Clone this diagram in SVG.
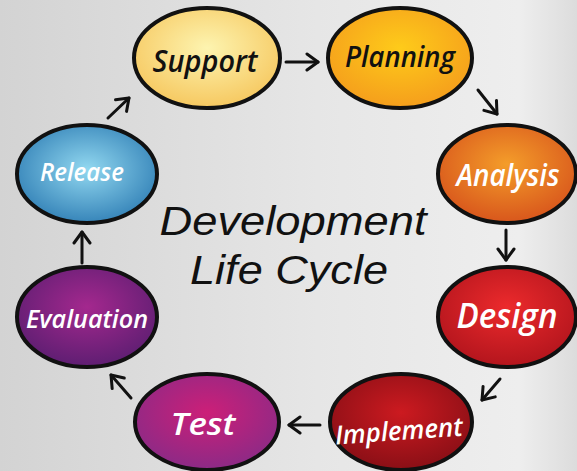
<svg xmlns="http://www.w3.org/2000/svg" width="577" height="471" viewBox="0 0 577 471">
<style>
.node ellipse{stroke:#111;stroke-width:4}
.lbl{font-family:"Open Sans","DejaVu Sans",sans-serif;font-style:italic;text-anchor:middle;font-weight:600}
.dark{fill:#111}
.light{fill:#fff}
.title{font-family:"Liberation Sans","DejaVu Sans",sans-serif;font-style:italic;fill:#111;text-anchor:middle}
.conn path{fill:none;stroke:#111;stroke-width:3;stroke-linecap:round;marker-end:url(#ah)}
</style>
<defs>
<linearGradient id="bg" x1="0" y1="0" x2="1" y2="0">
<stop offset="0" stop-color="#d3d3d3"/>
<stop offset="0.55" stop-color="#e6e6e6"/>
<stop offset="0.9" stop-color="#eeeeee"/>
<stop offset="1" stop-color="#dcdcdc"/>
</linearGradient>
<radialGradient id="gSup" cx="0.5" cy="0.4" r="0.6"><stop offset="0" stop-color="#fdf4b0"/><stop offset="1" stop-color="#f6c860"/></radialGradient>
<radialGradient id="gPla" cx="0.5" cy="0.4" r="0.6"><stop offset="0" stop-color="#fecb1a"/><stop offset="1" stop-color="#f59e1c"/></radialGradient>
<radialGradient id="gAna" cx="0.5" cy="0.4" r="0.6"><stop offset="0" stop-color="#f49d2a"/><stop offset="1" stop-color="#d8561c"/></radialGradient>
<radialGradient id="gDes" cx="0.5" cy="0.4" r="0.6"><stop offset="0" stop-color="#ec2a2c"/><stop offset="1" stop-color="#b3151d"/></radialGradient>
<radialGradient id="gImp" cx="0.5" cy="0.4" r="0.6"><stop offset="0" stop-color="#cc1a20"/><stop offset="1" stop-color="#8a0f16"/></radialGradient>
<radialGradient id="gTes" cx="0.5" cy="0.4" r="0.6"><stop offset="0" stop-color="#cc1f78"/><stop offset="1" stop-color="#8c2a86"/></radialGradient>
<radialGradient id="gEva" cx="0.5" cy="0.4" r="0.6"><stop offset="0" stop-color="#a4288e"/><stop offset="1" stop-color="#5e1e72"/></radialGradient>
<radialGradient id="gRel" cx="0.5" cy="0.45" r="0.6"><stop offset="0" stop-color="#92d8f0"/><stop offset="1" stop-color="#2e7db4"/></radialGradient>
<marker id="ah" markerUnits="userSpaceOnUse" markerWidth="20" markerHeight="20" viewBox="-14 -10 18 20" refX="0" refY="0" orient="auto">
<path d="M-11,-8 L0,0 L-11,8" fill="none" stroke="#111" stroke-width="3" stroke-linecap="round" stroke-linejoin="round"/>
</marker>
</defs>
<rect width="577" height="471" fill="url(#bg)"/>

<g id="connectors" class="conn">
<path d="M286,62 L318,62"/>
<path d="M478,90 L497,114"/>
<path d="M506,230 L506,260"/>
<path d="M500,379 L482,400"/>
<path d="M320,425 L289,425"/>
<path d="M131,398 L111,375"/>
<path d="M82,263 L82,232"/>
<path d="M108,118 L129,98"/>
</g>

<g id="support" class="node">
<ellipse cx="207" cy="58" rx="73" ry="50" fill="url(#gSup)"/>
<text class="lbl dark" x="205" y="72" font-size="30" textLength="105" lengthAdjust="spacingAndGlyphs">Support</text>
</g>
<g id="planning" class="node">
<ellipse cx="400" cy="58" rx="72" ry="50" fill="url(#gPla)"/>
<text class="lbl dark" x="400" y="67" font-size="28" textLength="110" lengthAdjust="spacingAndGlyphs">Planning</text>
</g>
<g id="analysis" class="node">
<ellipse cx="507" cy="174" rx="69" ry="49" fill="url(#gAna)"/>
<text class="lbl light" x="508" y="186" font-size="30" textLength="103" lengthAdjust="spacingAndGlyphs">Analysis</text>
</g>
<g id="design" class="node">
<ellipse cx="507" cy="317" rx="69" ry="50" fill="url(#gDes)"/>
<text class="lbl light" x="507" y="328" font-size="34" textLength="101" lengthAdjust="spacingAndGlyphs">Design</text>
</g>
<g id="implement" class="node">
<ellipse cx="401" cy="422" rx="71" ry="48" fill="url(#gImp)"/>
<text class="lbl light" x="399" y="440" font-size="26" textLength="128" lengthAdjust="spacingAndGlyphs" transform="rotate(-4 399 432)">Implement</text>
</g>
<g id="test" class="node">
<ellipse cx="207" cy="422" rx="72" ry="48" fill="url(#gTes)"/>
<text class="lbl light" x="203" y="435" font-size="30" textLength="65" lengthAdjust="spacingAndGlyphs">Test</text>
</g>
<g id="evaluation" class="node">
<ellipse cx="87" cy="317" rx="70" ry="50" fill="url(#gEva)"/>
<text class="lbl light" x="87" y="328" font-size="26" textLength="122" lengthAdjust="spacingAndGlyphs">Evaluation</text>
</g>
<g id="release" class="node">
<ellipse cx="87" cy="174" rx="70" ry="49" fill="url(#gRel)"/>
<text class="lbl light" x="82" y="181" font-size="25" textLength="84" lengthAdjust="spacingAndGlyphs">Release</text>
</g>

<g id="title">
<text class="title" x="293" y="235" font-size="40" textLength="267" lengthAdjust="spacingAndGlyphs">Development</text>
<text class="title" x="289" y="284" font-size="40" textLength="198" lengthAdjust="spacingAndGlyphs">Life Cycle</text>
</g>
</svg>
